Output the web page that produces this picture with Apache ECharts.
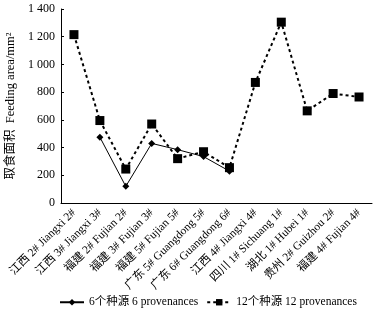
<!DOCTYPE html>
<html>
<head>
<meta charset="utf-8">
<script src="https://cdn.jsdelivr.net/npm/echarts@6/dist/echarts.min.js"></script>
<style>
  html, body { margin: 0; padding: 0; background: #fff; }
  #chart { width: 383px; height: 317px; }
</style>
</head>
<body>
<div id="chart"></div>
<script>
// categories (provenances)
var categories = [
  "江西 2# Jiangxi 2#", "江西 3# Jiangxi 3#", "福建 2# Fujian 2#", "福建 3# Fujian 3#",
  "福建 5# Fujian 5#", "广东 5# Guangdong 5#", "广东 6# Guangdong 6#", "江西 4# Jiangxi 4#",
  "四川 1# Sichuang 1#", "湖北 1# Hubei 1#", "贵州 2# Guizhou 2#", "福建 4# Fujian 4#"
];
var seriesNames = ["6个种源 6 provenances", "12个种源 12 provenances"];
var six = [null, 475, 120, 430, 385, 335, 230, null, null, null, null, null];
var twelve = [1215, 595, 245, 570, 320, 370, 255, 870, 1305, 665, 790, 765];
var yTicks = [0, 200, 400, 600, 800, 1000, 1200, 1400];

var font = "'Liberation Serif', 'Noto Sans CJK SC', serif";
var chart = echarts.init(document.getElementById("chart"));

chart.setOption({
  backgroundColor: "#fff",
  animation: false,
  textStyle: { fontFamily: font, color: "#000" },
  grid: { left: 61, right: 11, top: 9, bottom: 114, outerBoundsMode: "none" },
  legend: {
    bottom: 4,
    left: 54,
    itemWidth: 24,
    itemHeight: 8,
    itemGap: 8,
    textStyle: { fontFamily: font, fontSize: 11.5, color: "#000" },
    data: seriesNames
  },
  xAxis: {
    type: "category",
    data: categories,
    boundaryGap: true,
    axisLine: { lineStyle: { color: "#000", width: 1 } },
    axisTick: { inside: true, length: 3, lineStyle: { color: "#000" } },
    axisLabel: {
      rotate: 45,
      interval: 0,
      fontSize: 11.5,
      color: "#000",
      fontFamily: font,
      margin: 8
    },
    splitLine: { show: false }
  },
  yAxis: {
    type: "value",
    min: yTicks[0],
    max: yTicks[yTicks.length - 1],
    interval: 200,
    name: "取食面积  Feeding area/mm²",
    nameLocation: "middle",
    nameGap: 38,
    nameTextStyle: { fontFamily: font, fontSize: 12.5, color: "#000" },
    axisLine: { show: true, lineStyle: { color: "#000", width: 1 } },
    axisTick: { show: true, inside: true, length: 3, lineStyle: { color: "#000" } },
    axisLabel: {
      fontSize: 12,
      color: "#000",
      fontFamily: font,
      margin: 6,
      formatter: function (v) {
        return v >= 1000 ? Math.floor(v / 1000) + " " + String(v % 1000).padStart(3, "0") : String(v);
      }
    },
    splitLine: { show: false }
  },
  series: [
    {
      name: seriesNames[0],
      type: "line",
      data: six,
      symbol: "diamond",
      symbolSize: 7,
      itemStyle: { color: "#000" },
      lineStyle: { color: "#000", width: 1 },
      connectNulls: false
    },
    {
      name: seriesNames[1],
      type: "line",
      data: twelve,
      symbol: "rect",
      symbolSize: 9,
      itemStyle: { color: "#000" },
      lineStyle: { color: "#000", width: 2, type: [3, 3] }
    }
  ]
});
</script>
</body>
</html>
